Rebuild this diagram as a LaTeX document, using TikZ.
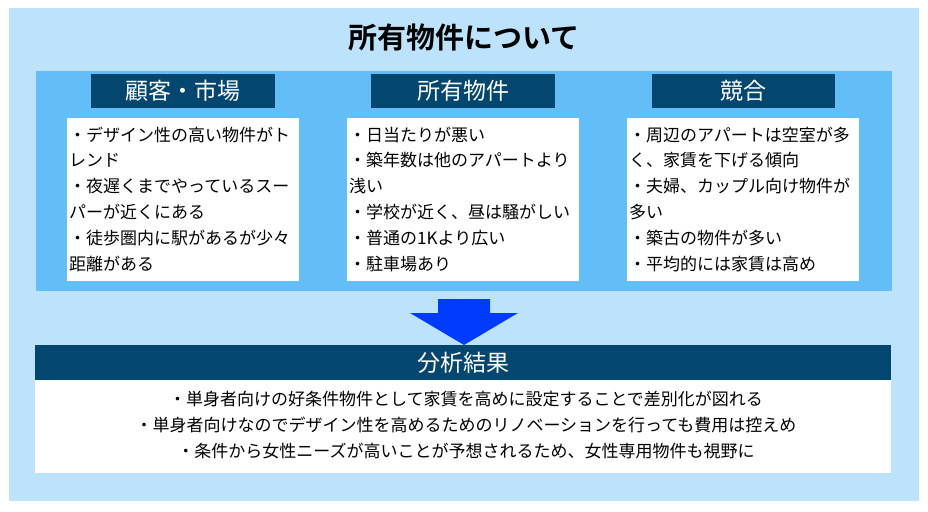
\documentclass[tikz,border=0pt]{standalone}
\usepackage{fontspec}
\setmainfont{Noto Sans CJK JP}[BoldFont={Noto Sans CJK JP Bold}]
\definecolor{outerblue}{RGB}{188,227,251}
\definecolor{midblue}{RGB}{99,190,248}
\definecolor{darkblue}{RGB}{3,70,112}
\definecolor{arrowblue}{RGB}{0,60,255}
\tikzset{
  header/.style={text=white, font=\fontsize{23}{27}\selectfont, inner sep=0pt},
  bodytext/.style={align=left, inner sep=0pt, anchor=base west, font=\fontsize{17}{25.8}\selectfont},
  resulttext/.style={align=center, inner sep=0pt, anchor=base, font=\fontsize{17}{26}\selectfont},
}
\begin{document}
\begin{tikzpicture}[x=1pt,y=-1pt]
\useasboundingbox[fill=white] (0,0) rectangle (928,511);
% outer background
\fill[outerblue] (9,8) rectangle (919,501);
% title
\node[font=\fontsize{29}{34}\selectfont\bfseries, inner sep=0pt] (title) at (464,37) {所有物件について};
% middle band
\fill[midblue] (36,71) rectangle (892,291);
% headers
\fill[darkblue] (91,74) rectangle (275,108);
\node[header] (h1) at (183,91) {顧客・市場};
\fill[darkblue] (371,74) rectangle (555,108);
\node[header] (h2) at (463,91) {所有物件};
\fill[darkblue] (652,74) rectangle (835,108);
\node[header] (h3) at (743.5,91) {競合};
% white boxes (anchor = baseline of last line)
\fill[white] (67,118) rectangle (299,281);
\node[bodytext] (t1) at (69,270) {・デザイン性の高い物件がト\\レンド\\・夜遅くまでやっているスー\\パーが近くにある\\・徒歩圏内に駅があるが少々\\距離がある};
\fill[white] (347,118) rectangle (579,281);
\node[bodytext] (t2) at (349,270) {・日当たりが悪い\\・築年数は他のアパートより\\浅い\\・学校が近く、昼は騒がしい\\・普通の1Kより広い\\・駐車場あり};
\fill[white] (627,118) rectangle (859,281);
\node[bodytext] (t3) at (629,270) {・周辺のアパートは空室が多\\く、家賃を下げる傾向\\・夫婦、カップル向け物件が\\多い\\・築古の物件が多い\\・平均的には家賃は高め};
% arrow
\fill[arrowblue] (438,299) -- (490,299) -- (490,313) -- (518,313) -- (464,345) -- (410,313) -- (438,313) -- cycle;
% result
\fill[darkblue] (35,345) rectangle (891,380);
\node[header] (rh) at (463,363) {分析結果};
\fill[white] (35,380) rectangle (891,473);
\node[resulttext] (rt) at (466,457) {・単身者向けの好条件物件として家賃を高めに設定することで差別化が図れる\\・単身者向けなのでデザイン性を高めるためのリノベーションを行っても費用は控えめ\\・条件から女性ニーズが高いことが予想されるため、女性専用物件も視野に};
\end{tikzpicture}
\end{document}
